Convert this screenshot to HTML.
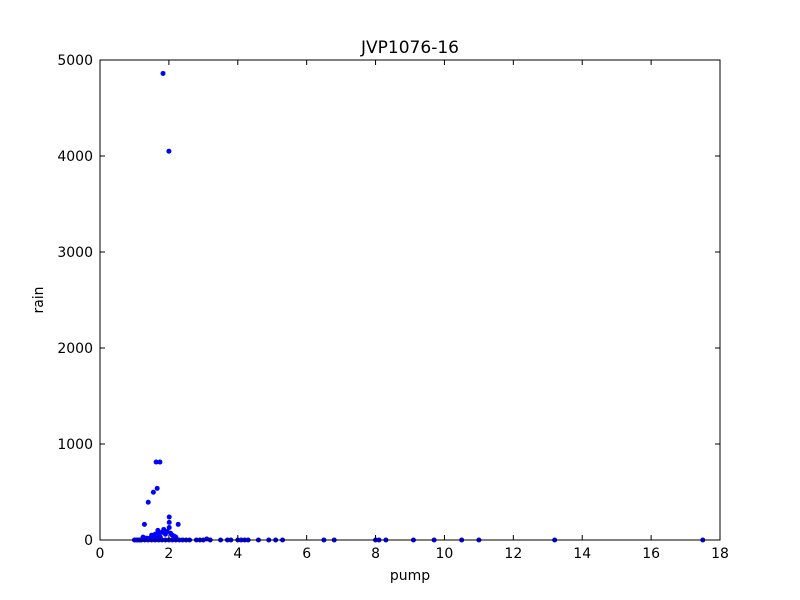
<!DOCTYPE html>
<html><head><meta charset="utf-8"><style>
body{margin:0;background:#fff;}
svg{display:block;font-family:"DejaVu Sans","Liberation Sans",sans-serif;}
</style></head><body>
<svg id="chart" width="800" height="600">
<rect width="800" height="600" fill="#fff"/>
<text x="410" y="53" font-size="17" text-anchor="middle">JVP1076-16</text>
<g id="marks"></g>
<rect x="100" y="60" width="620" height="480" fill="none" stroke="#000" stroke-width="1"/>
<g id="axes"></g>
<text x="410" y="580" font-size="14" text-anchor="middle">pump</text>
<text x="0" y="0" font-size="14" text-anchor="middle" transform="translate(43,300) rotate(-90)">rain</text>
</svg>
<script>
const xTicks=[0,2,4,6,8,10,12,14,16,18];
const yTicks=[0,1000,2000,3000,4000,5000];
const pumpVals=[1.83,2.0,1.63,1.74,1.66,1.55,1.40,1.29,2.01,2.01,2.01,2.27,1.85,1.95,1.7,1.6,1.5,1.65,1.8,1.9,2.1,2.2,1.75,1.55,1.45,1.35,1.25,1.68,2.05,2.15,
1.0,1.05,1.1,1.15,1.2,1.3,1.4,1.5,1.6,1.7,1.8,1.9,2.0,2.1,2.2,2.3,2.4,2.5,2.6,2.8,2.9,3.0,3.1,3.2,3.5,3.7,3.8,4.0,4.1,4.2,4.3,4.6,4.9,5.1,5.3,6.5,6.8,8.0,8.1,8.3,9.1,9.7,10.5,11.0,13.2,17.5];
const rainVals=[4860,4050,812,812,538,497,393,163,240,184,130,163,110,90,70,60,50,40,80,60,50,30,30,20,20,20,30,100,70,40,
0,0,0,0,0,0,0,0,0,0,0,0,0,0,0,0,0,0,0,0,0,0,10,0,0,0,0,0,0,0,0,0,0,0,0,0,0,0,0,0,0,0,0,0,0,0];
const X0=100,X1=720,Y0=540,Y1=60;
const xs=v=>X0+(v-0)/(18-0)*(X1-X0);
const ys=v=>Y0-(v-0)/(5000-0)*(Y0-Y1);
const NS="http://www.w3.org/2000/svg";
const marks=document.getElementById('marks');
for(let i=0;i<pumpVals.length;i++){
 const c=document.createElementNS(NS,'circle');
 c.setAttribute('cx',xs(pumpVals[i]));c.setAttribute('cy',ys(rainVals[i]));c.setAttribute('r',2.5);
 c.setAttribute('fill','#0000ff');
 
 
 marks.appendChild(c);
}
const axes=document.getElementById('axes');
xTicks.forEach(t=>{
 const x=xs(t);
 const g=document.createElementNS(NS,'g');
 
 
 g.innerHTML=`<line x1="${x}" y1="540" x2="${x}" y2="535" stroke="#000"/><line x1="${x}" y1="60" x2="${x}" y2="65" stroke="#000"/><text x="${x}" y="558" font-size="14" text-anchor="middle">${t}</text>`;
 axes.appendChild(g);
});
yTicks.forEach(t=>{
 const y=ys(t);
 const g=document.createElementNS(NS,'g');
 
 
 g.innerHTML=`<line x1="100" y1="${y}" x2="105" y2="${y}" stroke="#000"/><line x1="720" y1="${y}" x2="715" y2="${y}" stroke="#000"/><text x="93" y="${y+5}" font-size="14" text-anchor="end">${t}</text>`;
 axes.appendChild(g);
});
</script>
</body></html>
